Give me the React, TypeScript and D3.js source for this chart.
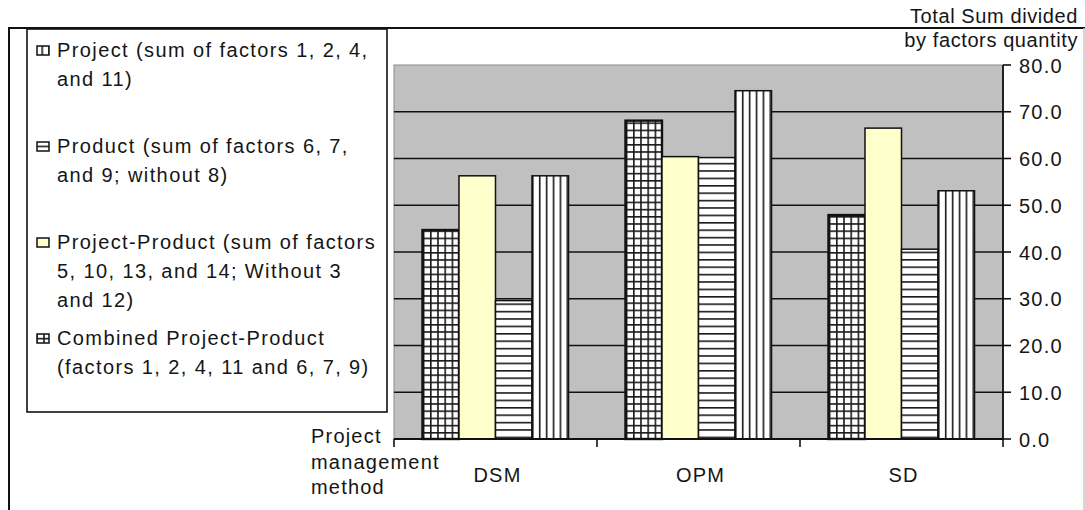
import { useRef, useEffect } from "react"
import * as d3 from "d3"

const categories = ["DSM", "OPM", "SD"]

// bar order, left to right inside each group
const seriesKeys = ["combined", "projectProduct", "product", "project"]

const combined = [44.7, 68.1, 47.9]
const projectProduct = [56.3, 60.4, 66.5]
const product = [29.6, 60.2, 40.6]
const project = [56.3, 74.5, 53.1]

const yTicks = [0, 10, 20, 30, 40, 50, 60, 70, 80]

const legendKeys = ["project", "product", "projectProduct", "combined"]
const legendLines = [
  ["Project (sum of factors 1, 2, 4,", "and 11)"],
  ["Product (sum of factors 6, 7,", "and 9; without 8)"],
  ["Project-Product (sum of factors", "5, 10, 13, and 14; Without 3", "and 12)"],
  ["Combined Project-Product", "(factors 1, 2, 4, 11 and 6, 7, 9)"],
]

const yTitle = ["Total Sum divided", "by factors quantity"]
const xTitle = ["Project", "management", "method"]

const FONT = "'Liberation Sans', Arial, sans-serif"
const TEXT = "#151515"

export default function App() {
  const svgRef = useRef<SVGSVGElement>(null)

  useEffect(() => {
    if (!svgRef.current) return
    const svg = d3.select(svgRef.current)
    svg.selectAll("*").remove()

    const width = 1085
    const height = 510
    const plot = { left: 394, right: 1003, top: 65, bottom: 439 }

    const values: Record<string, number[]> = { combined, projectProduct, product, project }

    const x = d3.scaleBand().domain(categories).range([plot.left, plot.right]).padding(0)
    const xs = d3.scaleBand().domain(seriesKeys).range([0, x.bandwidth()]).paddingInner(0).paddingOuter(0.78)
    const y = d3.scaleLinear().domain([0, 80]).range([plot.bottom, plot.top])

    // fill patterns
    const defs = svg.append("defs")
    const step = 7.2
    const lineColor = "#1a1a1a"

    const grid = defs.append("pattern").attr("id", "pat-grid").attr("patternUnits", "userSpaceOnUse")
      .attr("width", step).attr("height", step)
    grid.append("rect").attr("width", step).attr("height", step).attr("fill", "white")
    grid.append("line").attr("x1", 0).attr("x2", step).attr("y1", 0.8).attr("y2", 0.8)
      .attr("stroke", lineColor).attr("stroke-width", 1.6)
    grid.append("line").attr("x1", 0.8).attr("x2", 0.8).attr("y1", 0).attr("y2", step)
      .attr("stroke", lineColor).attr("stroke-width", 1.6)

    const horiz = defs.append("pattern").attr("id", "pat-horiz").attr("patternUnits", "userSpaceOnUse")
      .attr("width", step).attr("height", 7.4)
    horiz.append("rect").attr("width", step).attr("height", 7.4).attr("fill", "white")
    horiz.append("line").attr("x1", 0).attr("x2", step).attr("y1", 0.8).attr("y2", 0.8)
      .attr("stroke", lineColor).attr("stroke-width", 1.6)

    const vert = defs.append("pattern").attr("id", "pat-vert").attr("patternUnits", "userSpaceOnUse")
      .attr("width", 6.9).attr("height", step)
    vert.append("rect").attr("width", 6.9).attr("height", step).attr("fill", "white")
    vert.append("line").attr("x1", 0.8).attr("x2", 0.8).attr("y1", 0).attr("y2", step)
      .attr("stroke", lineColor).attr("stroke-width", 1.6)

    const fills: Record<string, string> = {
      combined: "url(#pat-grid)",
      projectProduct: "#FFFFCC",
      product: "url(#pat-horiz)",
      project: "url(#pat-vert)",
    }

    // outer chart frame
    svg.append("line").attr("x1", 8).attr("x2", width).attr("y1", 28).attr("y2", 28)
      .attr("stroke", "#111").attr("stroke-width", 2)
    svg.append("line").attr("x1", 9).attr("x2", 9).attr("y1", 28).attr("y2", height)
      .attr("stroke", "#111").attr("stroke-width", 2)
    svg.append("line").attr("x1", 1084).attr("x2", 1084).attr("y1", 28).attr("y2", height)
      .attr("stroke", "#c8c8c8").attr("stroke-width", 1.5)

    // plot area
    svg.append("rect")
      .attr("x", plot.left).attr("y", plot.top)
      .attr("width", plot.right - plot.left).attr("height", plot.bottom - plot.top)
      .attr("fill", "#C0C0C0").attr("stroke", "#8a8a8a").attr("stroke-width", 1)

    // gridlines
    svg.append("g").selectAll("line")
      .data(yTicks.filter((t) => t > 0 && t < 80))
      .join("line")
      .attr("x1", plot.left).attr("x2", plot.right)
      .attr("y1", (d) => y(d)).attr("y2", (d) => y(d))
      .attr("stroke", "#111").attr("stroke-width", 1.6)

    // bars
    const groups = svg.append("g").selectAll("g")
      .data(categories)
      .join("g")
      .attr("transform", (d) => `translate(${x(d)},0)`)

    groups.selectAll("rect")
      .data((c, i) => seriesKeys.map((k) => ({ key: k, value: values[k][i] })))
      .join("rect")
      .attr("x", (d) => xs(d.key)!)
      .attr("y", (d) => y(d.value))
      .attr("width", xs.bandwidth())
      .attr("height", (d) => y(0) - y(d.value))
      .attr("fill", (d) => fills[d.key])
      .attr("stroke", "#111")
      .attr("stroke-width", (d) => (d.key === "combined" ? 2.4 : 1.5))

    // y axis on the right
    svg.append("line").attr("x1", plot.right).attr("x2", plot.right)
      .attr("y1", plot.top).attr("y2", plot.bottom + 1).attr("stroke", "#111").attr("stroke-width", 1.8)
    svg.append("g").selectAll("line")
      .data(yTicks)
      .join("line")
      .attr("x1", plot.right).attr("x2", plot.right + 8)
      .attr("y1", (d) => y(d)).attr("y2", (d) => y(d))
      .attr("stroke", "#111").attr("stroke-width", 1.6)
    svg.append("g").selectAll("text")
      .data(yTicks)
      .join("text")
      .attr("x", 1019)
      .attr("y", (d) => y(d) + 7.5)
      .attr("font-family", FONT)
      .attr("font-size", 20)
      .attr("letter-spacing", 1.2)
      .attr("fill", TEXT)
      .text((d) => d3.format(".1f")(d))

    // x axis
    svg.append("line").attr("x1", plot.left).attr("x2", plot.right)
      .attr("y1", plot.bottom).attr("y2", plot.bottom).attr("stroke", "#111").attr("stroke-width", 1.8)
    const bounds = [...categories.map((c) => x(c)!), plot.right]
    svg.append("g").selectAll("line")
      .data(bounds)
      .join("line")
      .attr("x1", (d) => d).attr("x2", (d) => d)
      .attr("y1", plot.bottom).attr("y2", plot.bottom + 8)
      .attr("stroke", "#111").attr("stroke-width", 1.6)
    svg.append("g").selectAll("text")
      .data(categories)
      .join("text")
      .attr("x", (d) => x(d)! + x.bandwidth() / 2 + 2)
      .attr("y", 482)
      .attr("text-anchor", "middle")
      .attr("font-family", FONT)
      .attr("font-size", 20)
      .attr("letter-spacing", 1.2)
      .attr("fill", TEXT)
      .text((d) => d)

    // axis titles
    svg.append("g").selectAll("text")
      .data(yTitle)
      .join("text")
      .attr("x", 1078)
      .attr("y", (d, i) => 23 + i * 24)
      .attr("text-anchor", "end")
      .attr("font-family", FONT)
      .attr("font-size", 20)
      .attr("letter-spacing", 0.6)
      .attr("fill", TEXT)
      .text((d) => d)

    svg.append("g").selectAll("text")
      .data(xTitle)
      .join("text")
      .attr("x", 311)
      .attr("y", (d, i) => 443 + i * 25.5)
      .attr("font-family", FONT)
      .attr("font-size", 20)
      .attr("letter-spacing", 1.2)
      .attr("fill", TEXT)
      .text((d) => d)

    // legend
    svg.append("rect")
      .attr("x", 27).attr("y", 29)
      .attr("width", 360).attr("height", 383)
      .attr("fill", "white").attr("stroke", "#111").attr("stroke-width", 1.6)

    const legend = svg.append("g").selectAll("g")
      .data(legendKeys)
      .join("g")
      .attr("transform", (d, i) => `translate(0,${57 + i * 96})`)

    legend.append("rect")
      .attr("x", 37).attr("y", -11)
      .attr("width", 12).attr("height", 9)
      .attr("fill", (d) => fills[d])
      .attr("stroke", "#111").attr("stroke-width", 1.5)

    legend.each(function (d, i) {
      d3.select(this).selectAll("text")
        .data(legendLines[i])
        .join("text")
        .attr("x", 57)
        .attr("y", (t, j) => j * 29)
        .attr("font-family", FONT)
        .attr("font-size", 20)
        .attr("letter-spacing", 1.4)
        .attr("fill", TEXT)
        .text((t) => t)
    })
  }, [])

  return (
    <div style={{ position: "absolute", left: 0, top: 0 }}>
      <svg ref={svgRef} width={1085} height={510} style={{ display: "block", background: "white" }} />
    </div>
  )
}
